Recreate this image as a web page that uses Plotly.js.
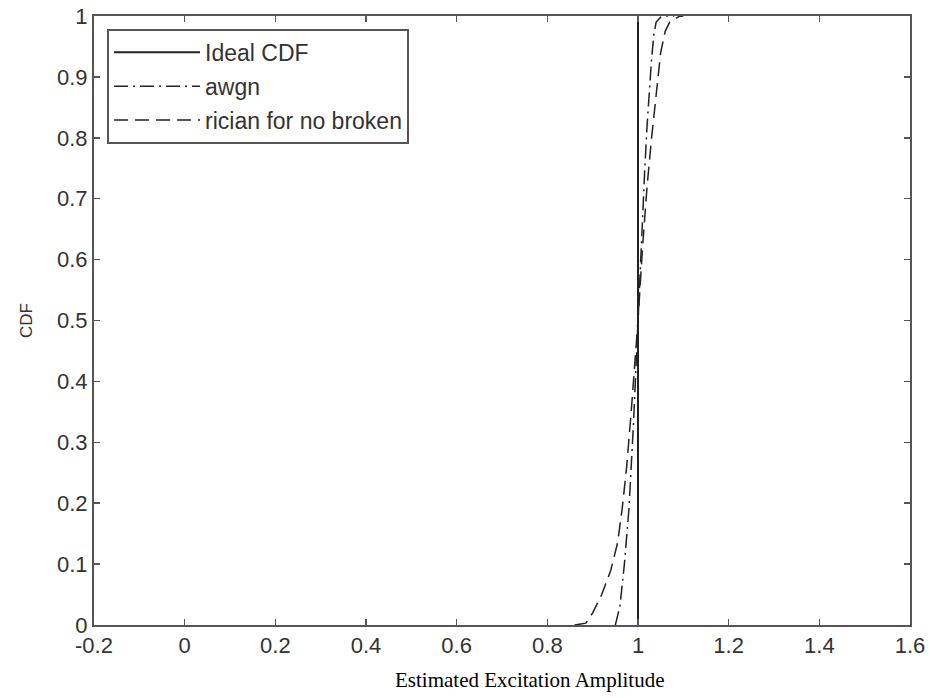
<!DOCTYPE html>
<html>
<head>
<meta charset="utf-8">
<script src="https://cdn.plot.ly/plotly-3.0.1.min.js"></script>
<style>html,body{margin:0;padding:0;background:#fff;}#chart{width:930px;height:698px;}</style>
</head>
<body>
<div id="chart"></div>
<script>
// Ideal CDF: step at amplitude 1
const idealX = [1, 1];
const idealY = [0, 1];

const awgnX = [0.95, 0.96, 0.97, 0.98, 0.99, 1.0, 1.005, 1.01, 1.015, 1.02, 1.025, 1.03, 1.035, 1.04, 1.05, 1.06, 1.08];
const awgnY = [0, 0.03, 0.1, 0.19, 0.33, 0.5, 0.6, 0.68, 0.75, 0.82, 0.88, 0.93, 0.97, 0.99, 0.998, 1, 1];

const ricianX = [0.86, 0.885, 0.9, 0.92, 0.94, 0.955, 0.965, 0.975, 0.985, 0.993, 1.0, 1.01, 1.02, 1.03, 1.04, 1.05, 1.06, 1.07, 1.09, 1.1];
const ricianY = [0, 0.003, 0.02, 0.05, 0.09, 0.135, 0.19, 0.26, 0.35, 0.43, 0.5, 0.62, 0.72, 0.8, 0.87, 0.94, 0.975, 0.99, 0.999, 1];

const seriesNames = ["Ideal CDF", "awgn", "rician for no broken"];

const xTickVals = [-0.2, 0, 0.2, 0.4, 0.6, 0.8, 1, 1.2, 1.4, 1.6];
const xTickText = ["-0.2", "0", "0.2", "0.4", "0.6", "0.8", "1", "1.2", "1.4", "1.6"];
const yTickVals = [0, 0.1, 0.2, 0.3, 0.4, 0.5, 0.6, 0.7, 0.8, 0.9, 1];
const yTickText = ["0", "0.1", "0.2", "0.3", "0.4", "0.5", "0.6", "0.7", "0.8", "0.9", "1"];

const xTitle = "Estimated Excitation Amplitude";
const yTitle = "CDF";

const lineColor = "#222";
const traces = [
  {x: idealX, y: idealY, name: seriesNames[0], mode: "lines", legendgroup: "a",
   line: {color: lineColor, width: 2, dash: "solid"}},
  {x: awgnX, y: awgnY, name: seriesNames[1], mode: "lines", legendgroup: "b",
   line: {color: lineColor, width: 1.5, dash: "14px,5px,2px,5px"}},
  {x: ricianX, y: ricianY, name: seriesNames[2], mode: "lines", legendgroup: "c",
   line: {color: lineColor, width: 1.5, dash: "14px,7px"}}
];

const axisCommon = {
  showgrid: false, zeroline: false, showline: true, mirror: "ticks",
  linecolor: "#555", linewidth: 2, ticks: "inside", ticklen: 6, tickwidth: 1.5,
  tickcolor: "#555", tickfont: {family: "Liberation Sans, Arial, sans-serif", size: 22, color: "#333"},
  tickmode: "array"
};

const layout = {
  width: 930, height: 698,
  margin: {l: 94, r: 20, t: 16, b: 73},
  paper_bgcolor: "#fff", plot_bgcolor: "#fff",
  showlegend: true,
  legend: {
    x: 0.016, y: 0.979, xanchor: "left", yanchor: "top",
    bgcolor: "#fff", bordercolor: "#555", borderwidth: 2,
    font: {family: "Liberation Sans, Arial, sans-serif", size: 23, color: "#333"},
    traceorder: "grouped", tracegroupgap: 1, itemwidth: 86
  },
  xaxis: Object.assign({}, axisCommon, {
    range: [-0.2, 1.6], tickvals: xTickVals, ticktext: xTickText
  }),
  yaxis: Object.assign({}, axisCommon, {
    range: [0, 1], tickvals: yTickVals, ticktext: yTickText,
    title: {text: yTitle, standoff: 20, font: {family: "Liberation Sans, Arial, sans-serif", size: 17, color: "#333"}}
  }),
  annotations: [{
    text: xTitle, xref: "paper", yref: "paper", x: 0.534, y: -0.09,
    xanchor: "center", yanchor: "middle", showarrow: false,
    font: {family: "Liberation Serif, Times New Roman, serif", size: 21, color: "#000"}
  }]
};

Plotly.newPlot("chart", traces, layout, {displayModeBar: false, staticPlot: true});
</script>
</body>
</html>
